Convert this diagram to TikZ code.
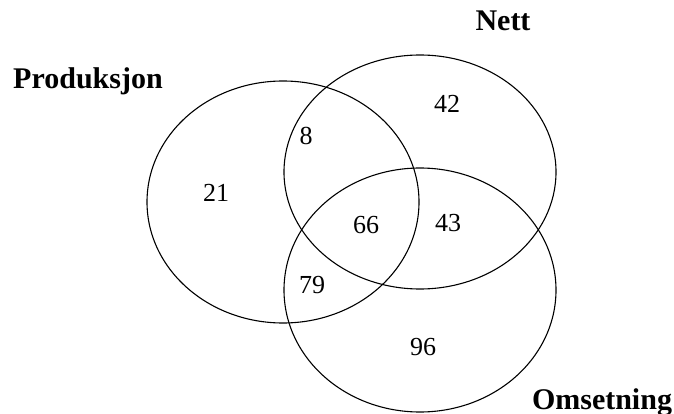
\documentclass[tikz,border=0pt]{standalone}
\usepackage{fontspec}
\setmainfont{Liberation Serif}
\tikzset{
	setline/.style={draw=black, line width=1.1pt},
	setname/.style={font=\fontsize{30}{33}\selectfont\bfseries, inner sep=0pt, anchor=base},
	count/.style={font=\fontsize{26}{29}\selectfont, inner sep=0pt},
}
\begin{document}
\begin{tikzpicture}[x=1pt, y=-1pt]
	\useasboundingbox (0,0) rectangle (674,414);
	% the three sets
	\draw[setline] (283,202) ellipse [x radius=136, y radius=121];
	\draw[setline] (420,172) ellipse [x radius=136, y radius=117];
	\draw[setline] (420,290) ellipse [x radius=136, y radius=122];
	% set names
	\node[setname] (prod) at (88,89) {Produksjon};
	\node[setname] (nett) at (503,31) {Nett};
	\node[setname] (oms) at (602,409) {Omsetning};
	% counts in each region
	\foreach \name/\x/\y/\val in {
		onlyP/216/193/21, onlyN/447/104/42, onlyO/423/347/96,
		PN/306/136/8, NO/448/223/43, PO/312/285/79, PNO/366/225/66} {
		\node[count] (\name) at (\x,\y) {\val};
	}
\end{tikzpicture}
\end{document}
